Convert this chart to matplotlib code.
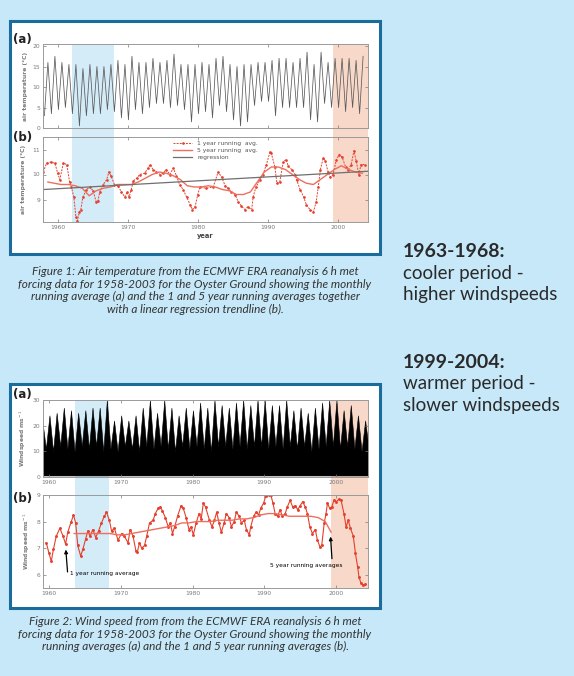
import numpy as np
import matplotlib
matplotlib.use("Agg")
from matplotlib import pyplot as plt
from matplotlib.patches import Rectangle

# ---- data ----
# Figure 1 (a): monthly air temperature, winter troughs and summer peaks per year
temp_years = list(range(1958, 2004))
temp_troughs = [3, 3.5, 4.5, 5, 3.5, 0.5, 3, 3.5, 3.5, 4.5, 4, 2.5, 2, 4.5, 3.5, 5,
                6, 6, 5, 5.5, 4.5, 1.5, 3.5, 4, 2.5, 5.5, 4, 2, 0.5, 1.5, 5.5, 6.5,
                6.5, 3, 5, 5, 5, 5, 2, 1.5, 6, 5, 5, 4, 5, 3.5]
temp_peaks = [16, 17.5, 16, 15.5, 15.5, 14.5, 15.5, 15, 15, 15.5, 16.5, 15.5, 17.5,
              16, 16, 17, 16, 16.5, 18, 15.5, 15.5, 15.5, 16, 15.5, 17, 17.5, 15.5,
              15, 15.5, 15.5, 16, 16, 16.5, 17, 17, 16, 17, 18.5, 15.5, 18.5, 16,
              17, 17, 17, 16.5, 17.5]

# Figure 1 (b): 1 year running average
t1_x = [1957.95, 1958.4, 1959.0, 1959.6, 1960.0, 1960.3, 1960.8, 1961.3, 1961.7, 1961.95,
        1962.3, 1962.6, 1962.8, 1963.1, 1963.3, 1963.6, 1964.1, 1964.6, 1965.05, 1965.5,
        1965.75, 1966.0, 1966.5, 1967.0, 1967.3, 1967.6, 1968.1, 1968.6, 1969.1, 1969.6,
        1969.9, 1970.2, 1970.5, 1970.8, 1971.3, 1971.7, 1972.4, 1972.9, 1973.2, 1973.6,
        1974.1, 1974.6, 1975.0, 1975.5, 1976.0, 1976.5, 1976.95, 1977.4, 1977.9, 1978.4,
        1978.9, 1979.2, 1979.6, 1980.0, 1980.3, 1981.2, 1982.2, 1982.9, 1983.4, 1983.9,
        1984.3, 1984.8, 1985.3, 1985.8, 1986.2, 1986.7, 1987.1, 1987.7, 1987.9, 1988.3,
        1988.9, 1989.3, 1989.8, 1990.3, 1990.5, 1991.0, 1991.3, 1991.7, 1992.2, 1992.6,
        1992.9, 1993.4, 1993.9, 1994.1, 1994.6, 1995.1, 1995.5, 1996.0, 1996.5, 1996.9,
        1997.2, 1997.5, 1997.9, 1998.2, 1998.6, 1998.9, 1999.3, 1999.8, 2000.2, 2000.6,
        2001.1, 2001.5, 2001.9, 2002.3, 2002.6, 2003.0, 2003.3, 2003.9]
t1_y = [10.1, 10.45, 10.5, 10.45, 10.05, 9.8, 10.45, 10.4, 9.7, 9.5,
        9.1, 8.3, 8.15, 8.5, 8.6, 9.1, 9.4, 9.5, 9.35, 8.9,
        8.95, 9.3, 9.6, 9.8, 10.1, 9.95, 9.6, 9.55, 9.3, 9.1,
        9.3, 9.1, 9.4, 9.75, 9.85, 10.0, 10.05, 10.25, 10.4, 10.2,
        10.1, 10.0, 10.05, 10.2, 10.0, 10.25, 9.95, 9.6, 9.4, 9.1,
        8.8, 8.6, 8.7, 9.2, 9.5, 9.45, 9.5, 10.1, 9.9, 9.55,
        9.45, 9.3, 9.2, 8.9, 8.75, 8.6, 8.7, 8.6, 9.1, 9.5,
        9.8, 10.0, 10.4, 10.9, 10.85, 10.3, 9.65, 9.7, 10.5, 10.6,
        10.35, 10.2, 10.0, 9.8, 9.4, 9.1, 8.8, 8.6, 8.5, 8.9,
        9.5, 10.2, 10.65, 10.55, 10.1, 9.9, 10.0, 10.6, 10.8, 10.7,
        10.3, 10.2, 10.4, 10.95, 10.55, 10.0, 10.4, 10.4]

# Figure 1 (b): 5 year running average
t5_x = [1958.6, 1959.5, 1960.5, 1961.5, 1962.5, 1963.5, 1964.5, 1965.5, 1966.5, 1967.5,
        1968.5, 1969.5, 1970.5, 1971.5, 1972.5, 1973.5, 1974.5, 1975.5, 1976.5, 1977.5,
        1978.5, 1979.5, 1980.5, 1981.5, 1982.5, 1983.5, 1984.5, 1985.5, 1986.5, 1987.5,
        1988.5, 1989.5, 1990.5, 1991.5, 1992.5, 1993.5, 1994.5, 1995.5, 1996.5, 1997.5,
        1998.5, 1999.5, 2000.5, 2001.5, 2002.5, 2003.5]
t5_y = [9.7, 9.65, 9.6, 9.6, 9.55, 9.45, 9.15, 9.35, 9.45, 9.5,
        9.6, 9.6, 9.6, 9.7, 9.85, 10.0, 10.1, 10.05, 9.95, 9.8,
        9.55, 9.5, 9.5, 9.55, 9.5, 9.4, 9.35, 9.2, 9.2, 9.3,
        9.7, 10.1, 10.3, 10.3, 10.2, 10.0, 9.8, 9.65, 9.6, 9.8,
        10.0, 10.2, 10.35, 10.2, 10.1, 10.05]

# Figure 1 (b): linear regression end points
reg_x = [1958.0, 2004.3]
reg_y = [9.4, 10.13]

# Figure 2 (a): wind speed, winter maxima and summer lows per year
wind_years = list(range(1959, 2005))
wind_peaks = [22, 24, 25, 27, 26, 25, 26, 27, 27, 30, 22, 24, 22, 24, 27, 30, 25, 30,
              27, 24, 27, 26, 29, 27, 30, 28, 27, 29, 30, 28, 30, 30, 28, 28, 30, 26,
              27, 25, 27, 29, 30, 30, 26, 28, 24, 22]
wind_lows = [11, 10, 12, 11, 10, 12, 11, 12, 10, 11, 10, 12, 11, 10, 12, 11, 12, 11,
             10, 12, 11, 12, 11, 10, 12, 12, 11, 12, 11, 12, 12, 11, 12, 11, 12, 11,
             12, 10, 11, 12, 12, 11, 12, 11, 10, 11]

# Figure 2 (b): 1 year running average
w1_x = [1959.6, 1960.0, 1960.3, 1960.6, 1961.0, 1961.5, 1961.95, 1962.3, 1962.6, 1963.1,
        1963.4, 1963.7, 1964.0, 1964.4, 1964.7, 1965.1, 1965.4, 1965.7, 1966.1, 1966.5,
        1966.9, 1967.3, 1967.7, 1968.0, 1968.4, 1968.7, 1969.1, 1969.6, 1970.1, 1970.5,
        1971.0, 1971.3, 1971.7, 1972.1, 1972.3, 1972.6, 1972.9, 1973.3, 1973.6, 1974.0,
        1974.5, 1974.8, 1975.2, 1975.5, 1975.8, 1976.2, 1976.6, 1976.9, 1977.2, 1977.5,
        1977.9, 1978.4, 1978.7, 1979.1, 1979.5, 1979.8, 1980.1, 1980.5, 1980.9, 1981.2,
        1981.5, 1981.8, 1982.35, 1982.7, 1983.05, 1983.35, 1983.7, 1984.0, 1984.4, 1984.7,
        1985.1, 1985.4, 1985.8, 1986.1, 1986.5, 1986.8, 1987.2, 1987.5, 1987.9, 1988.1,
        1988.5, 1988.85, 1989.2, 1989.5, 1989.9, 1990.2, 1990.6, 1990.9, 1991.2, 1991.5,
        1991.85, 1992.2, 1992.5, 1992.9, 1993.2, 1993.6, 1993.95, 1994.3, 1994.65, 1995.0,
        1995.35, 1995.7, 1996.0, 1996.35, 1996.7, 1997.1, 1997.4, 1997.75, 1998.0, 1998.35,
        1998.6, 1998.8, 1999.1, 1999.4, 1999.7, 2000.05, 2000.4, 2000.7, 2001.1, 2001.4,
        2001.7, 2002.0, 2002.4, 2002.7, 2003.0, 2003.2, 2003.45, 2003.8, 2004.1]
w1_y = [7.2, 6.8, 6.5, 6.95, 7.45, 7.75, 7.45, 7.15, 7.6, 8.0,
        8.25, 7.95, 7.1, 6.7, 6.95, 7.35, 7.65, 7.45, 7.7, 7.4,
        7.65, 7.95, 8.2, 8.35, 8.05, 7.65, 7.75, 7.3, 7.55, 7.45,
        7.2, 7.7, 7.45, 6.9, 6.85, 7.2, 7.0, 7.1, 7.45, 7.95,
        8.05, 8.3, 8.5, 8.55, 8.4, 8.15, 7.8, 7.95, 7.55, 7.8,
        8.2, 8.6, 8.5, 8.15, 7.7, 7.8, 7.5, 7.95, 8.3, 8.1,
        8.7, 8.55, 8.05, 7.8, 8.05, 8.35, 7.95, 7.6, 7.95, 8.3,
        8.15, 7.8, 8.0, 8.35, 8.2, 7.95, 8.05, 7.7, 7.5, 7.8,
        8.2, 8.35, 8.25, 8.5, 8.7, 8.95, 9.0, 9.0, 8.7, 8.3,
        8.2, 8.45, 8.2, 8.3, 8.55, 8.8, 8.55, 8.6, 8.45, 8.6,
        8.75, 8.55, 8.3, 7.8, 7.55, 7.7, 7.3, 7.05, 7.1, 7.95,
        8.3, 8.7, 8.5, 8.55, 8.8, 8.75, 8.85, 8.8, 8.3, 7.8,
        8.05, 7.75, 7.45, 6.8, 6.3, 5.9, 5.7, 5.6, 5.65]

# Figure 2 (b): 5 year running average
w5_x = [1963.5, 1964.5, 1965.5, 1966.5, 1967.5, 1968.5, 1969.5, 1970.5, 1971.5, 1972.5,
        1973.5, 1974.5, 1975.5, 1976.5, 1977.5, 1978.5, 1979.5, 1980.5, 1981.5, 1982.5,
        1983.5, 1984.5, 1985.5, 1986.5, 1987.5, 1988.5, 1989.5, 1990.5, 1991.5, 1992.5,
        1993.5, 1994.5, 1995.5, 1996.5, 1997.5, 1998.5, 1999.3]
w5_y = [7.55, 7.55, 7.55, 7.55, 7.55, 7.55, 7.5, 7.5, 7.55, 7.6,
        7.65, 7.7, 7.75, 7.8, 7.85, 7.95, 7.95, 8.0, 8.0, 8.0,
        8.05, 8.05, 8.05, 8.1, 8.1, 8.15, 8.25, 8.3, 8.3, 8.25,
        8.2, 8.2, 8.2, 8.2, 8.15, 8.0, 7.6]

decade_ticks = [1960, 1970, 1980, 1990, 2000]

# ---- styling ----
W, H = 574, 676
BG = "#c6e8f8"
BORDER = "#1a6c9c"
COOL = "#d4ebf8"
WARM = "#f7d8c9"
RED = "#e5402e"
RED_LIGHT = "#ee6f5e"
GREY = "#7a7a7a"
TXT = "#2a2a2a"


def box(x0, y0, x1, y1):
    # pixel coords from the top-left corner -> figure fraction
    return [x0 / W, 1 - y1 / H, (x1 - x0) / W, (y1 - y0) / H]


def style_axis(ax, xlim, ylim, yticks, xlabels=True):
    ax.set_xlim(*xlim)
    ax.set_ylim(*ylim)
    ax.set_facecolor("none")
    ax.set_xticks(decade_ticks)
    ax.set_yticks(yticks)
    ax.tick_params(direction="in", length=2.5, width=0.5, colors=GREY,
                   labelsize=4.3, pad=2, top=True, right=True)
    if not xlabels:
        ax.set_xticklabels([])
    for s in ax.spines.values():
        s.set_color("#9a9a9a")
        s.set_linewidth(0.7)


def shading(fig, rect, xlim, cool, warm):
    bg = fig.add_axes(rect, zorder=0)
    bg.set_xlim(*xlim)
    bg.axvspan(*cool, color=COOL, lw=0)
    bg.axvspan(*warm, color=WARM, lw=0)
    bg.axis("off")


fig = plt.figure(figsize=(W / 100, H / 100), dpi=100)
fig.patch.set_facecolor(BG)

for x0, y0, x1, y1 in [(10, 21, 380, 254), (10, 384, 380, 608)]:
    fig.add_artist(Rectangle((x0 / W, 1 - y1 / H), (x1 - x0) / W, (y1 - y0) / H,
                             transform=fig.transFigure, facecolor="white",
                             edgecolor=BORDER, linewidth=2.2, zorder=-1))

# ---- Figure 1 ----
xl1 = (1957.9, 2004.3)
shading(fig, box(43, 44, 368, 222), xl1, (1962.0, 1968.0), (1999.3, 2004.3))

ax1a = fig.add_axes(box(43, 44, 368, 128), zorder=2)
tx, ty = [], []
for yr, lo, hi in zip(temp_years, temp_troughs, temp_peaks):
    tx += [yr + 0.1, yr + 0.6]
    ty += [lo, hi]
ax1a.plot(tx, ty, color="#5a5a5a", lw=0.55)
style_axis(ax1a, xl1, (0, 20.5), [0, 5, 10, 15, 20], xlabels=False)
ax1a.set_ylabel("air temperature (°C)", fontsize=4.3, color=GREY,
                fontweight="bold", labelpad=3)

ax1b = fig.add_axes(box(43, 137, 368, 222), zorder=2)
ax1b.plot(t1_x, t1_y, color=RED, lw=0.7, ls=(0, (2, 1.2)), marker=".",
          ms=1.8, label="1 year running  avg.")
ax1b.plot(t5_x, t5_y, color=RED_LIGHT, lw=1.0, label="5 year running  avg.")
ax1b.plot(reg_x, reg_y, color="#6f6f6f", lw=0.9, label="regression")
style_axis(ax1b, xl1, (8.1, 11.5), [9, 10, 11])
ax1b.set_ylabel("air temperature (°C)", fontsize=4.3, color=GREY,
                fontweight="bold", labelpad=5)
ax1b.set_xlabel("year", fontsize=4.8, color="#444444", fontweight="bold",
                labelpad=2)
leg = ax1b.legend(loc="upper left", bbox_to_anchor=(0.39, 1.0), frameon=False,
                  fontsize=4.3, handlelength=3.2, labelspacing=0.35,
                  handletextpad=0.8, borderaxespad=0.2)
for t in leg.get_texts():
    t.set_color("#555555")

fig.text(13 / W, 1 - 43 / H, "(a)", fontsize=8.5, fontweight="bold", color="#222222",
         va="baseline")
fig.text(13 / W, 1 - 141 / H, "(b)", fontsize=8.5, fontweight="bold", color="#222222",
         va="baseline")

# ---- Figure 2 ----
xl2 = (1959.15, 2004.45)
shading(fig, box(43, 400, 368, 588), xl2, (1963.6, 1968.3), (1999.3, 2004.45))

ax2a = fig.add_axes(box(43, 400, 368, 477), zorder=2)
wx, wy = [], []
for yr, pk, lo in zip(wind_years, wind_peaks, wind_lows):
    wx += [yr + 0.05, yr + 0.55]
    wy += [pk, lo]
ax2a.fill_between(wx, 0.6, wy, color="black", lw=0.4)
style_axis(ax2a, xl2, (0, 30), [0, 10, 20, 30])
ax2a.set_ylabel("Windspeed ms$^{-1}$", fontsize=4.3, color=GREY,
                fontweight="bold", labelpad=3)

ax2b = fig.add_axes(box(43, 495, 368, 588), zorder=2)
ax2b.plot(w1_x, w1_y, color=RED, lw=0.8, marker=".", ms=2.2)
ax2b.plot(w5_x, w5_y, color=RED_LIGHT, lw=1.0)
style_axis(ax2b, xl2, (5.5, 9.0), [6, 7, 8, 9])
ax2b.set_ylabel("Windspeed ms$^{-1}$", fontsize=4.3, color=GREY,
                fontweight="bold", labelpad=3)
ax2b.annotate("", xy=(1962.3, 7.05), xytext=(1962.6, 6.0),
              arrowprops=dict(arrowstyle="-|>", color="black", lw=0.9,
                              mutation_scale=5))
ax2b.text(1962.95, 6.05, "1 year running average", fontsize=4.2, va="center")
ax2b.annotate("", xy=(1999.2, 7.54), xytext=(1999.45, 6.5),
              arrowprops=dict(arrowstyle="-|>", color="black", lw=0.9,
                              mutation_scale=5))
ax2b.text(2000.9, 6.34, "5 year running averages", fontsize=4.2, va="center",
          ha="right")

fig.text(13 / W, 1 - 398 / H, "(a)", fontsize=8.5, fontweight="bold", color="#222222",
         va="baseline")
fig.text(13 / W, 1 - 502 / H, "(b)", fontsize=8.5, fontweight="bold", color="#222222",
         va="baseline")

# ---- captions ----
cap1 = ("Figure 1: Air temperature from the ECMWF ERA reanalysis 6 h met\n"
        "forcing data for 1958-2003 for the Oyster Ground showing the monthly\n"
        "running average (a) and the 1 and 5 year running averages together\n"
        "with a linear regression trendline (b).")
cap2 = ("Figure 2: Wind speed from from the ECMWF ERA reanalysis 6 h met\n"
        "forcing data for 1958-2003 for the Oyster Ground showing the monthly\n"
        "running averages (a) and the 1 and 5 year running averages (b).")
fig.text(195 / W, 1 - 266 / H, cap1, fontsize=8.5, family="Lato", style="italic",
         color="#333333", ha="center", va="top", linespacing=1.18)
fig.text(195 / W, 1 - 616 / H, cap2, fontsize=8.5, family="Lato", style="italic",
         color="#333333", ha="center", va="top", linespacing=1.18)

# ---- side notes ----
fig.text(403 / W, 1 - 257 / H, "1963-1968:", fontsize=14, family="Lato",
         fontweight="bold", color=TXT, va="baseline")
fig.text(403 / W, 1 - 279 / H, "cooler period -", fontsize=13.5, family="Lato",
         color=TXT, va="baseline")
fig.text(403 / W, 1 - 300 / H, "higher windspeeds", fontsize=13.5, family="Lato",
         color=TXT, va="baseline")
fig.text(403 / W, 1 - 368 / H, "1999-2004:", fontsize=14, family="Lato",
         fontweight="bold", color=TXT, va="baseline")
fig.text(403 / W, 1 - 389 / H, "warmer period -", fontsize=13.5, family="Lato",
         color=TXT, va="baseline")
fig.text(403 / W, 1 - 411 / H, "slower windspeeds", fontsize=13.5, family="Lato",
         color=TXT, va="baseline")

fig.savefig("out.png", dpi=100, facecolor=BG)
